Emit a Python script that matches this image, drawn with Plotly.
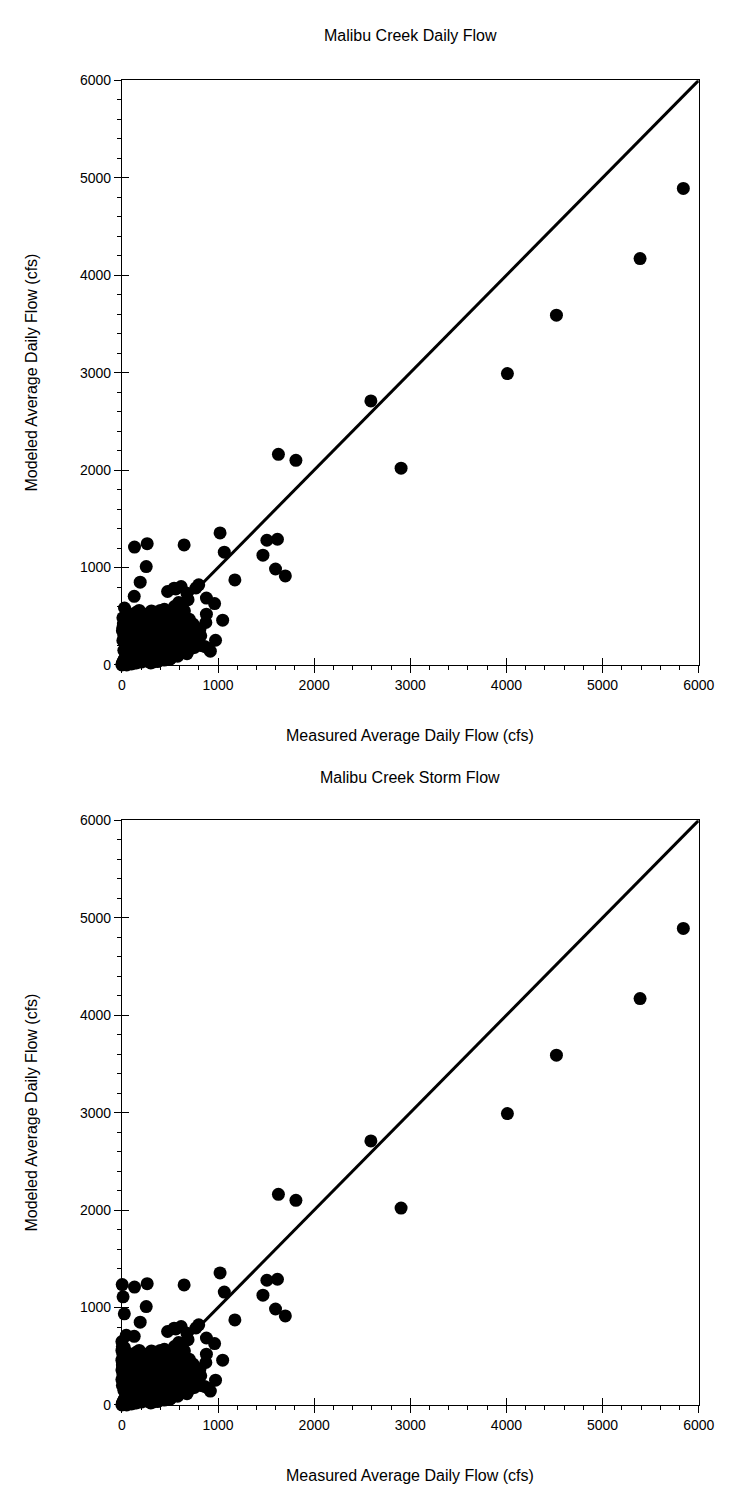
import plotly.graph_objects as go

# ---------------- data ----------------
titles = ["Malibu Creek Daily Flow", "Malibu Creek Storm Flow"]
x_title = "Measured Average Daily Flow (cfs)"
y_title = "Modeled Average Daily Flow (cfs)"
tick_vals = [0, 1000, 2000, 3000, 4000, 5000, 6000]
tick_text = ["0", "1000", "2000", "3000", "4000", "5000", "6000"]
one_to_one = [0, 6000]

# large events (measured, modeled)
big_meas = [131, 263, 647, 1021, 1065, 1175, 253, 190, 1628, 1810, 2904, 1508, 1618,
            1467, 1598, 1700, 2590, 4010, 4520, 5390, 5840]
big_mod = [1210, 1245, 1232, 1355, 1158, 873, 1010, 850, 2162, 2100, 2020, 1280, 1290,
           1127, 985, 914, 2710, 2990, 3590, 4170, 4890]

# medium events on the edge of the cluster
mid_meas = [799, 770, 475, 543, 616, 560, 677, 688, 128, 27, 10, 879, 964, 546, 650,
            879, 873, 1048, 974, 920, 812, 728, 660, 677, 526, 391, 543, 442, 307, 206,
            590, 600, 700, 740, 820, 760, 500, 420, 350, 250, 180, 80]
mid_mod = [822, 790, 754, 788, 805, 780, 737, 670, 704, 585, 484, 687, 630, 599, 555,
           521, 436, 460, 254, 142, 369, 352, 284, 115, 149, 81, 555, 572, 555, 521,
           640, 520, 470, 390, 300, 200, 480, 500, 460, 470, 450, 520]

# dense low-flow cluster
low_meas = [0, 5, 10, 15, 20, 25, 30, 40, 45, 50, 60, 70, 80, 90, 100, 110, 120, 130,
            140, 150, 160, 170, 180, 190, 200, 210, 220, 230, 240, 250, 260, 270, 280,
            290, 300, 310, 320, 330, 340, 350, 360, 370, 380, 390, 400, 410, 420, 430,
            450, 460, 470, 480, 490, 500, 520, 530, 540, 560, 570, 590, 600, 610, 620,
            640, 660, 680, 700, 720, 740, 760, 790, 20, 10, 5, 15, 30, 40, 60, 70, 80,
            90, 110, 130, 150, 160, 190, 200, 240, 250, 300, 350, 400, 60, 100, 150,
            180, 50, 100, 150, 200, 250, 35, 55, 75, 95, 115, 135, 155, 175, 195, 215,
            235, 255, 275, 295, 315, 335, 355, 375, 395, 415, 435, 455, 475, 495, 515,
            535, 555, 575, 595, 615, 635, 655, 675, 695, 715, 735, 755, 780, 820, 860,
            900, 650, 580, 510, 440, 370, 300, 230, 160, 90, 20, 8, 3, 12, 25, 45]
low_mod = [0, 20, 5, 40, 10, 60, 25, 80, 15, 120, 45, 150, 30, 90, 200, 60, 130, 20,
           250, 170, 90, 40, 300, 220, 140, 70, 350, 260, 190, 110, 50, 400, 310, 230,
           160, 90, 30, 450, 370, 280, 200, 130, 60, 420, 330, 250, 170, 100, 480, 380,
           290, 210, 140, 60, 430, 340, 250, 180, 100, 470, 380, 300, 220, 140, 410,
           330, 240, 170, 420, 300, 250, 150, 250, 350, 420, 300, 200, 380, 280, 450,
           340, 400, 470, 350, 430, 480, 400, 470, 520, 500, 540, 560, 500, 520, 540,
           560, 0, 10, 20, 30, 40, 330, 240, 180, 110, 60, 290, 210, 150, 80, 360, 260,
           190, 120, 70, 320, 230, 170, 100, 380, 280, 210, 130, 80, 330, 250, 190, 120,
           360, 280, 210, 150, 320, 250, 190, 200, 260, 180, 230, 200, 190, 170, 130,
           90, 70, 50, 35, 20, 100, 160, 230, 300, 380]

# additional storm points with (near) zero measured flow
storm_meas = [0, 5, 0, 10, 0, 5, 0, 10, 0, 5, 0, 10, 0, 5]
storm_mod = [1235, 1110, 935, 715, 650, 600, 560, 520, 460, 410, 360, 310, 260, 200]

daily_x = big_meas + mid_meas + low_meas
daily_y = big_mod + mid_mod + low_mod
storm_x = daily_x + storm_meas
storm_y = daily_y + storm_mod

# ---------------- figure ----------------
W, H = 732, 1494
font = "Liberation Sans, Arial, sans-serif"


def fx(px):
    return px / W


def fy(py):
    return (H - py) / H


fig = go.Figure()

panels = [(daily_x, daily_y, "x", "y"), (storm_x, storm_y, "x2", "y2")]
for px_, py_, xa, ya in panels:
    fig.add_trace(go.Scatter(x=one_to_one, y=one_to_one, mode="lines",
                             line=dict(color="black", width=3),
                             xaxis=xa, yaxis=ya, showlegend=False, hoverinfo="skip"))
    fig.add_trace(go.Scatter(x=px_, y=py_, mode="markers",
                             marker=dict(color="black", size=13, line=dict(width=0)),
                             cliponaxis=False, xaxis=xa, yaxis=ya, showlegend=False))

for xa, ya in [("x3", "y3"), ("x4", "y4")]:
    fig.add_trace(go.Scatter(x=[None], y=[None], xaxis=xa, yaxis=ya,
                             showlegend=False, hoverinfo="skip"))

xdom = [fx(113), fx(706)]
ydom_top = [fy(656), fy(65)]
ydom_bot = [fy(1404), fy(813)]


def ax(domain, anchor, minor_dtick=200):
    return dict(domain=domain, anchor=anchor, range=[0, 6000], tickvals=tick_vals,
                ticktext=tick_text, ticks="outside", ticklen=7, tickwidth=1,
                tickcolor="black", showline=True, linecolor="black", linewidth=1,
                mirror=True, showgrid=False, zeroline=False,
                tickfont=dict(family=font, size=14, color="black"),
                minor=dict(ticks="outside", ticklen=4, tickcolor="black",
                           dtick=minor_dtick, tick0=0, showgrid=False),
                fixedrange=True)


def ov(domain, anchor, overlay):
    return dict(domain=domain, anchor=anchor, overlaying=overlay, range=[0, 6000],
                tickvals=tick_vals, ticks="inside", ticklen=7, tickwidth=1,
                tickcolor="black", showticklabels=False, showline=False,
                showgrid=False, zeroline=False, fixedrange=True)


fig.update_layout(
    width=W, height=H,
    margin=dict(l=0, r=0, t=0, b=0),
    paper_bgcolor="white", plot_bgcolor="white",
    font=dict(family=font, color="black"),
    xaxis=ax(xdom, "y"), yaxis=ax(ydom_top, "x"),
    xaxis2=ax(xdom, "y2"), yaxis2=ax(ydom_bot, "x2"),
    xaxis3=ov(xdom, "y3", "x"), yaxis3=ov(ydom_top, "x3", "y"),
    xaxis4=ov(xdom, "y4", "x2"), yaxis4=ov(ydom_bot, "x4", "y2"),
)

cxp = (113 + 706) / 2
ann = []
for t, ty, xty, yty in [(titles[0], 20, 727, 360), (titles[1], 770, 1475, 1108)]:
    ann.append(dict(text=t, x=fx(cxp), y=fy(ty), xref="paper", yref="paper",
                    showarrow=False, xanchor="center", yanchor="middle",
                    font=dict(family=font, size=16, color="black")))
    ann.append(dict(text=x_title, x=fx(cxp), y=fy(xty), xref="paper", yref="paper",
                    showarrow=False, xanchor="center", yanchor="middle",
                    font=dict(family=font, size=16, color="black")))
    ann.append(dict(text=y_title, x=fx(20), y=fy(yty), xref="paper", yref="paper",
                    showarrow=False, xanchor="center", yanchor="middle", textangle=-90,
                    font=dict(family=font, size=16, color="black")))
fig.update_layout(annotations=ann)

fig.write_html("out.html")
